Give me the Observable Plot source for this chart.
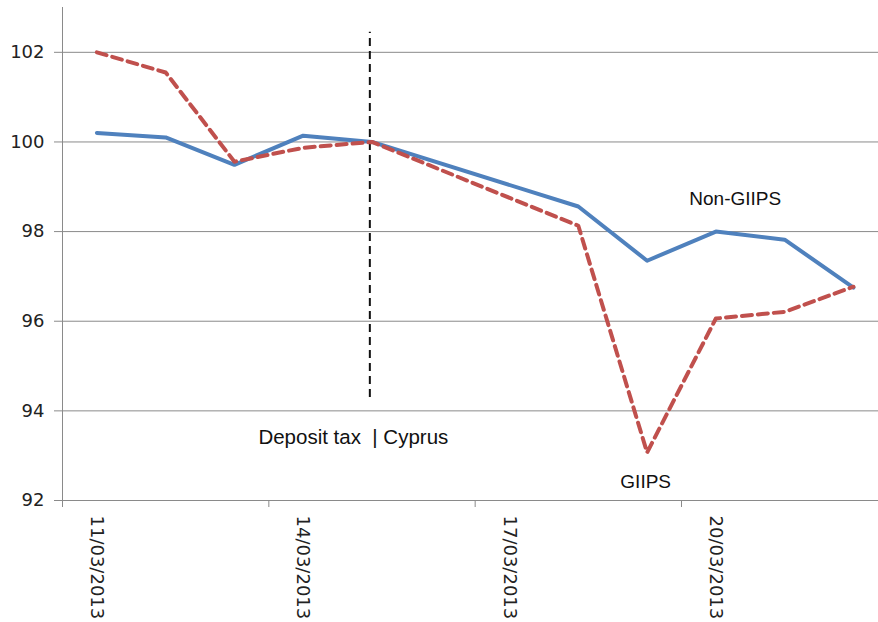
<!DOCTYPE html>
<html><head><meta charset="utf-8">
<script src="https://cdn.jsdelivr.net/npm/d3@7"></script>
<script src="https://cdn.jsdelivr.net/npm/@observablehq/plot@0.6"></script>
<style>body{margin:0;background:#fff}</style>
</head><body><div id="chart"></div>
<script>
// Data (index, 15/03/2013 = 100)
const dates = ["2013-03-11","2013-03-12","2013-03-13","2013-03-14","2013-03-15","2013-03-18","2013-03-19","2013-03-20","2013-03-21","2013-03-22"];
const nonGiips = [100.2,100.1,99.49,100.14,100.0,98.56,97.35,98.0,97.82,96.75];
const giips = [102.0,101.55,99.56,99.87,100.0,98.13,93.07,96.06,96.21,96.77];
const tickLabels = ["11/03/2013","14/03/2013","17/03/2013","20/03/2013"];
const yTicks = [92,94,96,98,100,102];
const yDomain = [92,103];
const xDomain = ["2013-03-11T00:00","2013-03-22T20:45"];
const eventDate = "2013-03-15T11:15";
const eventRange = [94.3,102.45];
const annLabels = ["Non-GIIPS","GIIPS","Deposit tax  | Cyprus"];
const annDates = ["2013-03-20T18:45","2013-03-19T11:30","2013-03-15T05:30"];
const annValues = [98.73,92.42,93.40];
const annSizes = [19,19,20.5];

const noon = s => new Date(s + "T12:00:00Z");
const iso = s => new Date(s + ":00Z");
const parseTick = d3.utcParse("%d/%m/%Y");

const rows = dates.map((d,i) => ({date: noon(d), nonGiips: nonGiips[i], giips: giips[i]}));
const tickMid = tickLabels.map(parseTick);
const tickRows = tickLabels.map((t,i) => ({label: t, date: new Date(+tickMid[i] + 12*3600e3)}));
const anns = annLabels.map((l,i) => ({label: l, date: iso(annDates[i]), value: annValues[i], size: annSizes[i]}));
const xStart = iso(xDomain[0]);

const grid = "#8a8a8a";
const chart = Plot.plot({
  width: 878, height: 622,
  marginLeft: 62, marginRight: 0, marginTop: 7, marginBottom: 122,
  style: {fontFamily: "'Liberation Sans', Arial, sans-serif", background: "#fff"},
  x: {type: "utc", domain: xDomain.map(iso)},
  y: {domain: yDomain},
  marks: [
    Plot.ruleY(yTicks, {stroke: grid, strokeWidth: 1}),
    Plot.ruleX([xStart], {stroke: grid, strokeWidth: 1}),
    Plot.axisY({ticks: yTicks, tickSize: 8, tickPadding: 10, fontSize: 18, stroke: grid, fill: "#222", label: null,
      fontFamily: "'DejaVu Sans', sans-serif"}),
    Plot.axisX({ticks: tickMid, tickSize: 7, tickFormat: () => "", stroke: grid, label: null}),
    Plot.text(tickRows, {x: "date", y: () => 92, text: "label", rotate: 90, textAnchor: "start", dy: 15,
      fontSize: 18, fill: "#222", fontFamily: "'DejaVu Sans', sans-serif"}),
    Plot.ruleX([iso(eventDate)], {y1: eventRange[0], y2: eventRange[1], stroke: "#111", strokeWidth: 2, strokeDasharray: "8,5"}),
    Plot.line(rows, {x: "date", y: "nonGiips", stroke: "#4F81BD", strokeWidth: 4}),
    Plot.line(rows, {x: "date", y: "giips", stroke: "#C0504D", strokeWidth: 4, strokeDasharray: "10,6"}),
    Plot.text(anns, {x: "date", y: "value", text: "label", fontSize: d => d.size, fill: "#111"})
  ]
});
document.getElementById("chart").append(chart);
</script>
</body></html>
